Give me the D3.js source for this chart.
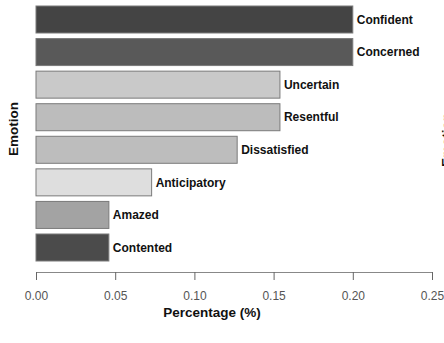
<!DOCTYPE html>
<html><head><meta charset="utf-8">
<script src="https://cdn.jsdelivr.net/npm/d3@7"></script>
<style>body{margin:0;background:#fff}svg{display:block}</style>
</head><body><svg id="c" width="444" height="343"></svg>
<script>
const categories = ["Confident","Concerned","Uncertain","Resentful","Dissatisfied","Anticipatory","Amazed","Contented"];
const values = [0.200,0.200,0.154,0.154,0.127,0.073,0.046,0.046];
const colors = ["#444444","#595959","#c9c9c9","#bcbcbc","#bdbdbd","#dedede","#a3a3a3","#4b4b4b"];
const ticks = [0,0.05,0.10,0.15,0.20,0.25];

const svg = d3.select("#c");
const x = d3.scaleLinear().domain([0,0.25]).range([36,432]);
const y = d3.scaleBand().domain(categories).range([6,261]).paddingInner(0.171).paddingOuter(0);

svg.selectAll("rect.bar").data(categories).join("rect")
  .attr("class","bar")
  .attr("x",x(0)).attr("y",d=>y(d))
  .attr("width",(d,i)=>x(values[i])-x(0))
  .attr("height",y.bandwidth())
  .attr("fill",(d,i)=>colors[i])
  .attr("stroke","#7a7a7a").attr("stroke-width",1);

svg.selectAll("text.lab").data(categories).join("text")
  .attr("class","lab")
  .attr("x",(d,i)=>x(values[i])+4)
  .attr("y",d=>y(d)+y.bandwidth()/2)
  .attr("dy","0.35em")
  .attr("font-family","Liberation Sans, Arial, sans-serif")
  .attr("font-weight","bold").attr("font-size",12).attr("fill","#111")
  .text(d=>d);

const ax = svg.append("g").attr("transform","translate(0,272)")
  .call(d3.axisBottom(x).tickValues(ticks).tickFormat(d3.format(".2f")).tickSize(8).tickSizeOuter(0));
ax.select(".domain").attr("stroke","#888");
ax.selectAll(".tick line").attr("stroke","#666");
ax.selectAll(".tick text").attr("font-family","Liberation Sans, Arial, sans-serif")
  .attr("font-size",12).attr("fill","#555").attr("dy","1.45em");
ax.select(".domain").attr("d","M36,0.5H432");

svg.append("text").attr("x",212).attr("y",317).attr("text-anchor","middle")
  .attr("font-family","Liberation Sans, Arial, sans-serif").attr("font-weight","bold")
  .attr("font-size",13.5).attr("fill","#111").text("Percentage (%)");

svg.append("text").attr("transform","translate(18,129) rotate(-90)").attr("text-anchor","middle")
  .attr("font-family","Liberation Sans, Arial, sans-serif").attr("font-weight","bold")
  .attr("font-size",13.5).attr("fill","#111").text("Emotion");

svg.append("text").attr("transform","translate(451,140) rotate(-90)").attr("text-anchor","middle")
  .attr("font-family","Liberation Sans, Arial, sans-serif").attr("font-weight","bold")
  .attr("font-size",13.5).attr("fill","#111").text("Emotion");
</script></body></html>
